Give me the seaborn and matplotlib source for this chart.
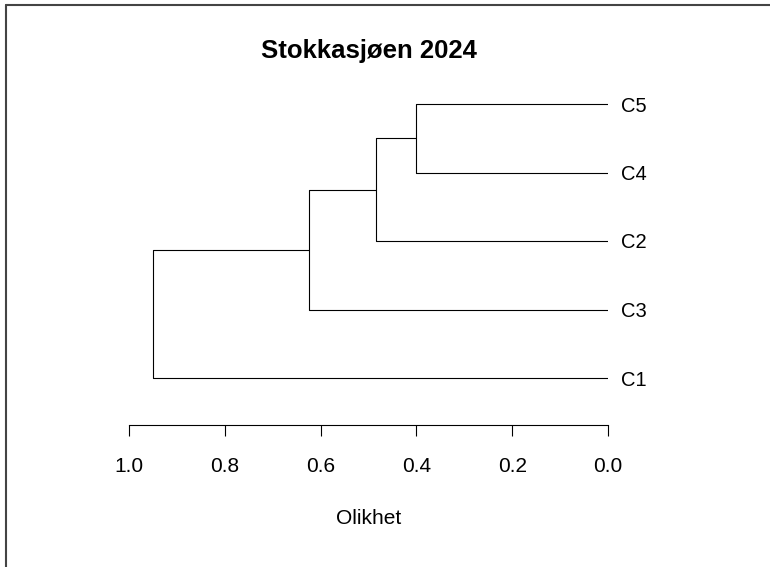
import matplotlib
matplotlib.use("Agg")
import matplotlib.pyplot as plt
from matplotlib.lines import Line2D
import seaborn as sns
import pandas as pd

# Leaf order (top to bottom) and merge steps of the cluster tree
leaves = ["C5", "C4", "C2", "C3", "C1"]
merge_left = ["C5", "m0", "m1", "m2"]
merge_right = ["C4", "C2", "C3", "C1"]
merge_height = [0.40, 0.485, 0.625, 0.95]

x_ticks = [1.0, 0.8, 0.6, 0.4, 0.2, 0.0]
x_tick_labels = ["1.0", "0.8", "0.6", "0.4", "0.2", "0.0"]

sns.set_style("white")
plt.rcParams["font.family"] = ["Liberation Sans", "DejaVu Sans"]
plt.rcParams["text.color"] = "black"
plt.rcParams["axes.labelcolor"] = "black"
plt.rcParams["xtick.color"] = "black"
plt.rcParams["ytick.color"] = "black"

# node positions: leaves at height 0, y from the leaf order (top = highest)
node_y = {name: len(leaves) - 1 - i for i, name in enumerate(leaves)}
node_h = {name: 0.0 for name in leaves}

rows = []
for i, (a, b, h) in enumerate(zip(merge_left, merge_right, merge_height)):
    pts = [(node_h[a], node_y[a]), (h, node_y[a]), (h, node_y[b]), (node_h[b], node_y[b])]
    for k, (px, py) in enumerate(pts):
        rows.append({"seg": i, "order": k, "x": px, "y": py})
    node_y[f"m{i}"] = (node_y[a] + node_y[b]) / 2
    node_h[f"m{i}"] = h
segs = pd.DataFrame(rows)

fig = plt.figure(figsize=(7.7, 5.67), dpi=100)
ax = fig.add_axes([129 / 770, 1 - 425 / 567, 479 / 770, (425 - 80) / 567])

sns.lineplot(data=segs, x="x", y="y", units="seg", estimator=None, sort=False,
             color="black", linewidth=0.8, ax=ax)

ax.set_xlim(1.0, 0.0)
ax.set_ylim(-(425 - 378) / 68.5, 4 + (104 - 80) / 68.5)

for s in ["top", "right", "left"]:
    ax.spines[s].set_visible(False)
ax.spines["bottom"].set_linewidth(0.8)
ax.spines["bottom"].set_color("black")

ax.set_xticks(x_ticks, x_tick_labels, fontsize=15)
ax.tick_params(axis="x", direction="out", length=8, width=0.8, pad=15, bottom=True)

ax.yaxis.tick_right()
ax.set_yticks([node_y[n] for n in leaves], leaves, fontsize=14.5)
ax.tick_params(axis="y", length=0, pad=9, right=False)

ax.set_xlabel("Olikhet", fontsize=15, labelpad=24)
ax.set_ylabel("")
ax.set_title("Stokkasjøen 2024", fontsize=18.5, fontweight="bold", pad=16)

# screenshot frame on top and left
fig.add_artist(Line2D([6 / 770, 1], [1 - 5 / 567, 1 - 5 / 567], color="#444444", linewidth=1.5))
fig.add_artist(Line2D([6 / 770, 6 / 770], [0, 1 - 5 / 567], color="#444444", linewidth=1.5))

fig.savefig("out.png", dpi=100)
